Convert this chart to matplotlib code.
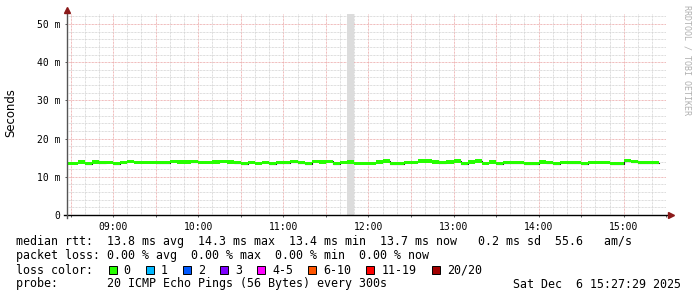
import numpy as np
import matplotlib
matplotlib.use('Agg')
import matplotlib.pyplot as plt
from matplotlib.patches import Rectangle

# --- data ---
t_start = 8 + 27/60 + 29/3600      # 08:27:29
t_end = t_start + 7                # 15:27:29
step_min = 5

# median rtt per 5 min slot (ms), first slot is the partial one before 08:30
median_ms = [13.53, 13.53, 13.87, 13.44, 13.87, 13.70, 13.79, 13.44, 13.79, 14.05,
             13.79, 13.79, 13.79, 13.70, 13.70, 14.05, 13.87, 13.87, 13.96, 13.79,
             13.79, 13.87, 14.05, 13.87, 13.70, 13.44, 13.79, 13.53, 13.79, 13.44,
             13.70, 13.70, 13.96, 13.70, 13.44, 14.05, 13.87, 14.05, 13.44, 13.79,
             13.87, 13.53, 13.53, 13.60, 13.87, 14.14, 13.40, 13.40, 13.79, 13.79,
             14.14, 14.14, 13.87, 13.70, 13.87, 14.14, 13.40, 13.87, 14.14, 13.53,
             13.87, 13.44, 13.70, 13.70, 13.70, 13.44, 13.44, 13.87, 13.70, 13.44,
             13.79, 13.70, 13.70, 13.40, 13.79, 13.79, 13.79, 13.44, 13.44, 14.25,
             13.96, 13.70, 13.70, 13.70]
unknown_slots = [40]   # slot with no data (grey column)

y_ticks = [0, 10, 20, 30, 40, 50]
y_labels = ['0', '10 m', '20 m', '30 m', '40 m', '50 m']
x_hours = [9, 10, 11, 12, 13, 14, 15]
x_labels = ['09:00', '10:00', '11:00', '12:00', '13:00', '14:00', '15:00']

loss_labels = ['0', '1', '2', '3', '4-5', '6-10', '11-19', '20/20']
loss_colors = ['#26ff00', '#00b8ff', '#0059ff', '#7e00ff', '#ff00ff', '#ff5500', '#ff0000', '#a10000']

legend_rows = [
    'median rtt:  13.8 ms avg  14.3 ms max  13.4 ms min  13.7 ms now   0.2 ms sd  55.6   am/s',
    'packet loss: 0.00 % avg  0.00 % max  0.00 % min  0.00 % now',
    'loss color:',
    'probe:       20 ICMP Echo Pings (56 Bytes) every 300s',
]
stamp = 'Sat Dec  6 15:27:29 2025'

# ---
W, H = 697, 297
fig = plt.figure(figsize=(W/100, H/100), dpi=100)
fig.patch.set_facecolor('white')

ax_l, ax_r, ax_b, ax_t = 67, 666.3, 215, 14.4
ax = fig.add_axes([ax_l/W, 1 - ax_b/H, (ax_r - ax_l)/W, (ax_b - ax_t)/H])
ax.set_xlim(t_start, t_end)
ax.set_ylim(0, 52.5)
for s in ax.spines.values():
    s.set_visible(False)

# slot edges: partial first slot, then every 5 min
n = len(median_ms)
edges = np.concatenate([[t_start], 8.5 + np.arange(n) * step_min/60])
med = np.array(median_ms)

# grid
minor_x = np.arange(8.5, 15.5 + 1e-6, 10/60)
major_x = np.arange(8.5, 15.5 + 1e-6, 0.5)
ax.set_xticks(major_x)
ax.set_xticklabels([x_labels[x_hours.index(int(h))] if abs(h - round(h)) < 1e-6 else '' for h in major_x])
ax.set_xticks(minor_x, minor=True)
ax.set_yticks(y_ticks)
ax.set_yticklabels(y_labels)
ax.set_yticks(np.arange(0, 53, 2), minor=True)

ax.grid(which='minor', color='#d2d2d2', linestyle=(0, (0.72, 0.72)), linewidth=0.72)
ax.grid(which='major', color='#eba5a5', linestyle=(0, (0.72, 0.72)), linewidth=0.72)
ax.set_axisbelow(True)

ax.tick_params(which='both', direction='out', length=1.5, width=0.6, color='#404040',
               labelsize=7, pad=3.5)
ax.tick_params(which='minor', length=0)
for lab in ax.get_xticklabels() + ax.get_yticklabels():
    lab.set_family('DejaVu Sans Mono')

# unknown data column
for k in unknown_slots:
    ax.axvspan(edges[k], edges[k + 1], color='#dcdcdc', lw=0, zorder=1.5)

# median line + loss coloured band
swidth = 0.4
ax.step(edges, np.append(med, med[-1]), where='post', color='#202020', lw=0.8, zorder=3)
ax.fill_between(edges, np.append(med, med[-1]) - swidth, np.append(med, med[-1]) + swidth,
                step='post', color=loss_colors[0], lw=0, zorder=4)

# axes with arrows
ax.plot([-0.005, 1.006], [0, 0], color='black', lw=1, transform=ax.transAxes, clip_on=False, zorder=5)
ax.plot([0, 0], [-0.015, 1.02], color='#555555', lw=1, transform=ax.transAxes, clip_on=False, zorder=5)
ax.plot([1.008], [0], marker='>', ms=4, color='#8b1a1a', transform=ax.transAxes, clip_on=False, zorder=6)
ax.plot([0], [1.024], marker='^', ms=4, color='#8b1a1a', transform=ax.transAxes, clip_on=False, zorder=6)

fig.text(11/W, 1 - 113/H, 'Seconds', rotation=90, ha='center', va='center', fontsize=8.4)
fig.text(686.5/W, 1 - 5/H, 'RRDTOOL / TOBI OETIKER', rotation=270, ha='center', va='top',
         fontsize=6, family='DejaVu Sans Mono', color='#b0b0b0')

# legend rows
mono = 'DejaVu Sans Mono'
fs = 8.42
cw = 7.04
x0 = 16
baselines = [245.5, 259.5, 273.5, 287.5]
for row, yb in zip(legend_rows, baselines):
    fig.text(x0/W, 1 - yb/H, row, ha='left', va='baseline', fontsize=fs, family=mono)
fig.text(681/W, 1 - baselines[3]/H, stamp, ha='right', va='baseline', fontsize=fs, family=mono)

entry = x0 + 13 * cw
for lab, col in zip(loss_labels, loss_colors):
    bx = entry + 1
    fig.add_artist(Rectangle((bx/W, 1 - 273.5/H), 8/W, 8/H, transform=fig.transFigure,
                             facecolor=col, edgecolor='black', lw=0.7))
    tx = entry + 16
    fig.text(tx/W, 1 - baselines[2]/H, lab, ha='left', va='baseline', fontsize=fs, family=mono)
    entry = tx + (len(lab) + 2) * cw

fig.savefig('out.png', dpi=100, facecolor='white')
